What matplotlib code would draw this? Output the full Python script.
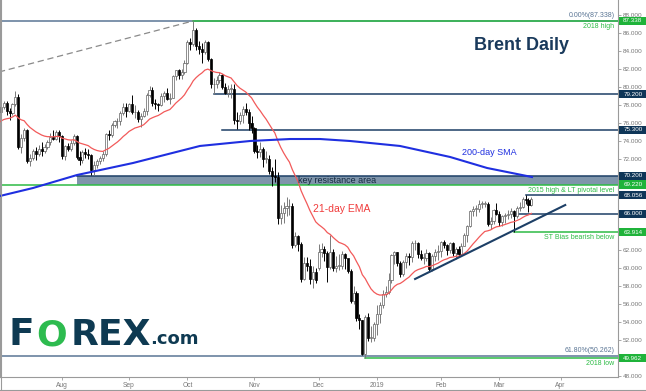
import numpy as np
import pandas as pd
import matplotlib
matplotlib.use("Agg")
import matplotlib.pyplot as plt
from matplotlib.patches import Rectangle
import matplotlib.transforms as mtransforms

plt.rcParams['font.family'] = ['Liberation Sans', 'DejaVu Sans']

# ===================== data =====================
# trading days Jul 2 2018 .. Mar 18 2019
opens = [
    79.2, 77.3, 77.8, 78.2, 77.4, 77.1, 78.1, 78.9, 73.4, 74.4, 75.3, 71.8, 72.2, 72.9, 72.6, 73.1, 72.9, 73.4, 73.9, 74.5, 74.3, 75.0,
    74.6, 72.4, 73.5, 73.2, 73.8, 74.6, 72.3, 71.9, 72.8, 72.6, 72.5, 70.8, 71.4, 71.8, 72.2, 72.6, 74.8, 74.7, 75.8, 76.2, 76.3, 77.1, 77.8,
    77.4, 78.1, 77.2, 77.3, 76.5, 76.8, 77.4, 79.1, 79.7, 78.2, 78.1, 78.0, 79.0, 79.4, 78.7, 78.8, 81.2, 81.9, 81.3, 81.7,
    82.7, 85.0, 84.8, 86.3, 84.6, 84.2, 83.9, 85.0, 83.1, 80.3, 80.4, 80.8, 81.4, 80.0, 79.3, 79.8, 79.8, 76.4, 76.2, 76.9, 77.6, 77.3, 76.0,
    75.5, 72.9, 72.8, 73.2, 72.1, 72.1, 70.7, 70.2, 70.1, 65.5, 66.1, 66.6, 66.8, 66.8, 62.5, 63.5, 62.6, 58.8, 60.5, 60.2, 58.8, 59.5,
    60.0, 61.7, 62.1, 61.6, 60.1, 61.7, 60.0, 60.2, 60.2, 61.5, 61.1, 59.6, 56.3, 57.2, 54.4, 54.2, 50.5, 54.5, 52.2, 52.2,
    53.8, 54.9, 55.9, 57.1, 57.3, 58.7, 61.4, 61.7, 60.5, 59.3, 60.6, 61.3, 61.2, 62.7, 62.7, 61.5, 61.1, 61.1, 61.6, 59.9, 61.3, 61.7,
    61.9, 62.8, 62.5, 62.0, 62.7, 61.6, 62.1, 61.5, 62.4, 63.6, 64.6, 66.3, 66.5, 66.5, 67.1, 67.1, 67.1, 64.8, 65.2, 66.4,
    66.0, 65.1, 65.7, 65.9, 66.0, 66.3, 65.7, 66.6, 66.7, 67.6, 67.5, 67.0,
]
highs = [
    79.4, 78.4, 78.5, 78.5, 77.7, 78.3, 79.6, 79.2, 74.8, 75.5, 75.4, 72.6, 73.1, 73.4, 73.6, 73.9, 73.7, 74.1, 74.9, 75.3, 75.3, 75.3,
    74.7, 73.6, 73.8, 74.1, 74.8, 74.7, 72.9, 73.0, 73.3, 73.1, 72.6, 71.8, 72.1, 72.4, 72.9, 74.9, 75.3, 76.0, 76.4, 76.6, 77.4, 78.2, 78.3,
    78.3, 79.1, 78.0, 77.5, 77.1, 77.7, 79.3, 80.1, 80.0, 78.7, 78.3, 79.3, 79.6, 79.9, 79.4, 81.4, 81.9, 82.0, 82.0, 83.0,
    85.2, 85.4, 87.338, 86.6, 85.1, 84.9, 85.2, 85.1, 83.2, 81.0, 81.2, 81.7, 81.5, 80.5, 80.2, 80.4, 80.3, 77.2, 77.3, 77.9, 78.3, 77.6, 76.8,
    75.6, 73.6, 73.9, 73.4, 72.9, 72.5, 71.2, 72.0, 70.6, 67.0, 67.3, 67.8, 67.6, 67.2, 64.0, 63.6, 62.8, 61.2, 61.2, 61.0, 60.2, 60.0,
    62.6, 62.7, 62.4, 61.9, 63.6, 62.1, 61.3, 61.5, 61.9, 61.6, 61.0, 59.9, 58.0, 57.4, 54.9, 54.2, 54.8, 55.0, 53.6, 54.0,
    55.9, 56.2, 57.5, 58.0, 59.4, 61.5, 61.9, 61.8, 60.7, 60.9, 61.6, 61.6, 63.0, 63.1, 62.8, 62.0, 61.6, 62.1, 61.7, 61.5, 62.1, 62.5,
    63.0, 63.1, 62.6, 62.8, 62.9, 62.3, 62.4, 62.7, 63.9, 64.7, 66.4, 66.8, 66.9, 67.5, 67.4, 67.4, 67.3, 65.6, 66.5, 67.2,
    66.3, 65.9, 66.1, 66.4, 66.6, 66.4, 66.8, 67.3, 67.8, 68.056, 67.7, 67.8,
]
lows = [
    77.0, 76.8, 77.6, 76.9, 76.4, 76.9, 77.9, 73.2, 72.7, 74.0, 71.6, 71.3, 71.9, 71.9, 72.4, 72.4, 72.7, 73.2, 73.6, 74.1, 74.2, 73.9,
    72.0, 71.9, 72.9, 72.9, 73.6, 72.1, 71.4, 71.6, 72.2, 72.0, 70.3, 70.3, 71.0, 71.5, 71.8, 72.4, 74.1, 74.5, 75.6, 75.5, 75.8, 76.9, 76.7,
    77.2, 77.0, 76.6, 76.1, 75.6, 76.7, 76.9, 78.9, 77.9, 77.6, 77.4, 77.9, 78.4, 78.6, 78.1, 78.8, 80.8, 80.9, 80.9, 81.5,
    82.6, 84.1, 84.6, 84.1, 83.7, 82.7, 83.7, 82.9, 79.9, 79.2, 79.9, 80.5, 79.8, 79.2, 78.9, 78.8, 75.9, 75.4, 75.9, 76.0, 76.9, 75.3, 74.9,
    72.7, 72.2, 72.3, 71.2, 71.6, 70.4, 69.1, 69.5, 64.8, 64.9, 65.0, 65.7, 65.9, 62.2, 62.3, 61.9, 58.4, 58.6, 59.6, 58.2, 57.8, 58.3,
    59.8, 61.2, 60.8, 58.4, 59.9, 59.6, 59.5, 59.8, 59.9, 59.9, 59.4, 56.1, 56.0, 54.1, 53.2, 50.3, 49.962, 51.9, 51.8, 51.9,
    52.6, 53.9, 55.5, 56.8, 57.1, 58.3, 60.4, 60.2, 59.0, 59.1, 60.0, 60.3, 60.6, 62.0, 61.1, 60.9, 60.4, 60.8, 59.6, 59.6, 60.8, 60.9,
    61.2, 62.2, 61.4, 61.6, 61.3, 61.0, 61.3, 61.3, 62.4, 62.9, 64.5, 65.7, 65.7, 66.2, 66.6, 66.7, 64.6, 64.3, 64.9, 65.8,
    64.6, 64.6, 65.0, 65.4, 65.5, 63.914, 65.5, 66.3, 66.6, 67.1, 66.2, 66.8,
]
closes = [
    77.3, 77.8, 78.2, 77.4, 77.1, 78.1, 78.9, 73.4, 74.4, 75.3, 71.8, 72.2, 72.9, 72.6, 73.1, 72.9, 73.4, 73.9, 74.5, 74.3, 75.0, 74.6,
    72.4, 73.5, 73.2, 73.8, 74.6, 72.3, 71.9, 72.8, 72.6, 72.5, 70.8, 71.4, 71.8, 72.2, 72.6, 74.8, 74.7, 75.8, 76.2, 76.3, 77.1, 77.8, 77.4,
    78.1, 77.2, 77.3, 76.5, 76.8, 77.4, 79.1, 79.7, 78.2, 78.1, 78.0, 79.0, 79.4, 78.7, 78.8, 81.2, 81.9, 81.3, 81.7, 82.7,
    85.0, 84.8, 86.3, 84.6, 84.2, 83.9, 85.0, 83.1, 80.3, 80.4, 80.8, 81.4, 80.0, 79.3, 79.8, 79.8, 76.4, 76.2, 76.9, 77.6, 77.3, 76.0, 75.5,
    72.9, 72.8, 73.2, 72.1, 72.1, 70.7, 70.2, 70.1, 65.5, 66.1, 66.6, 66.8, 66.8, 62.5, 63.5, 62.6, 58.8, 60.5, 60.2, 58.8, 59.5, 58.7,
    61.7, 62.1, 61.6, 60.1, 61.7, 60.0, 60.2, 60.2, 61.5, 61.1, 59.6, 56.3, 57.2, 54.4, 54.2, 50.5, 54.5, 52.2, 52.2, 53.8,
    54.9, 55.9, 57.1, 57.3, 58.7, 61.4, 61.7, 60.5, 59.3, 60.6, 61.3, 61.2, 62.7, 62.7, 61.5, 61.1, 61.1, 61.6, 59.9, 61.3, 61.7, 61.9,
    62.8, 62.5, 62.0, 62.7, 61.6, 62.1, 61.5, 62.4, 63.6, 64.6, 66.3, 66.5, 66.5, 67.1, 67.1, 67.1, 64.8, 65.2, 66.4, 66.0,
    65.1, 65.7, 65.9, 66.0, 66.3, 65.7, 66.6, 66.7, 67.6, 67.5, 67.0, 67.6,
]
# late June 2018 closes, only to start the EMA
warmup_closes = [75.3, 75.1, 74.7, 73.1, 75.6, 74.7, 76.3, 77.6, 77.9, 79.4]

# 200-day SMA, read at a few points (index, price)
sma_idx = [0.7, 12.0, 27.1, 46.3, 69.3, 86.5, 100.2, 110.5, 120.8, 137.9, 155.1, 167.8, 183.2]
sma_val = [67.95, 68.83, 70.27, 71.60, 73.49, 74.04, 74.26, 74.26, 74.04, 73.49, 72.27, 71.05, 70.05]

month_keys = ['2018-08', '2018-09', '2018-10', '2018-11', '2018-12', '2019-01', '2019-02', '2019-03', '2019-04']
month_labels = ['Aug', 'Sep', 'Oct', 'Nov', 'Dec', '2019', 'Feb', 'Mar', 'Apr']

# horizontal levels: value, start index, colour kind
level_vals = [87.338, 79.2, 75.3, 70.2, 69.22, 68.056, 66.0, 63.914, 49.962]
level_start = [67, 74, 77, 27, 0, 181, 178, 177, 126]
level_kind = ['g', 'n', 'n', 'n', 'g', 'n', 'n', 'g', 'g']

fib_vals = [87.338, 50.262]
trend_x = [143.1, 194.6]
trend_y = [58.76, 66.95]
dash_x = [0, 67]
dash_y = [81.65, 87.338]

NAVY = '#1d3f66'
GREEN = '#2dbb45'
FIB = '#5a7594'
BOXN = '#0f3658'
BOXG = '#1fb33a'

# ===================== x positions =====================
days = pd.bdate_range('2018-07-02', '2019-04-30')
days = days.drop(pd.to_datetime(['2018-12-25', '2019-01-01']))
n = len(closes)
x = np.arange(n)
month_pos = [int(np.argmax(days.strftime('%Y-%m') == k)) for k in month_keys]

ema = pd.Series(warmup_closes + closes).ewm(span=21, adjust=False).mean().values[len(warmup_closes):]

# ===================== figure =====================
fig = plt.figure(figsize=(6.46, 3.91), dpi=100)
ax = fig.add_axes([0, 14 / 391, 618 / 646, 377 / 391])
ax.set_xlim(0.72, 212.7)
ax.set_ylim(47.905, 89.654)

# key resistance box
ax.add_patch(Rectangle((27, 69.22), 220, 0.98, facecolor='#7f95ab', edgecolor='none', zorder=1))

# fib lines
for v in fib_vals:
    ax.axhline(v, color=FIB, lw=1.1, zorder=2)

# level lines
for v, s, k in zip(level_vals, level_start, level_kind):
    ax.plot([s, 220], [v, v], color=GREEN if k == 'g' else NAVY, lw=1.1, zorder=2)

ax.plot(dash_x, dash_y, color='#8a8a8a', lw=0.9, ls=(0, (5, 3)), zorder=2)
ax.plot(trend_x, trend_y, color=NAVY, lw=1.5, zorder=5)

# candles
o = np.array(opens); h = np.array(highs); l = np.array(lows); c = np.array(closes)
up = c >= o
ax.vlines(x[up], l[up], h[up], color='#7a7a7a', lw=0.7, zorder=3)
ax.vlines(x[~up], l[~up], h[~up], color='black', lw=0.7, zorder=3)
body = np.maximum(np.abs(c - o), 0.08)
ax.bar(x[up], body[up], bottom=np.minimum(o, c)[up], width=0.72,
       facecolor='white', edgecolor='#606060', linewidth=0.5, zorder=3)
ax.bar(x[~up], body[~up], bottom=np.minimum(o, c)[~up], width=0.72,
       facecolor='black', edgecolor='black', linewidth=0.5, zorder=3)

# moving averages
ax.plot(x, ema, color='#f25a5a', lw=0.9, zorder=4)
ax.plot(sma_idx, sma_val, color='#1f2fe0', lw=1.5, zorder=4)

# texts on chart
ax.text(179.6, 84.67, 'Brent Daily', color='#1a3a5c', fontsize=13, fontweight='bold', ha='center', va='center')
ax.text(168.5, 72.82, '200-day SMA', color='#1f2fe0', fontsize=6.5, ha='center', va='center')
ax.text(118.0, 66.51, '21-day EMA', color='#f03c3c', fontsize=7.5, ha='center', va='center')
ax.text(116.3, 69.71, 'key resistance area', color='#152a40', fontsize=6.5, ha='center', va='center', zorder=6)
ax.text(211.5, 87.5, '0.00%(87.338)', color=FIB, fontsize=5, ha='right', va='bottom')
ax.text(211.5, 87.1, '2018 high', color=GREEN, fontsize=5, ha='right', va='top')
ax.text(211.5, 69.0, '2015 high & LT pivotal level', color=GREEN, fontsize=5, ha='right', va='top')
ax.text(211.5, 63.7, 'ST Bias bearish below', color=GREEN, fontsize=5, ha='right', va='top')
ax.text(211.5, 50.42, '61.80%(50.262)', color=FIB, fontsize=5, ha='right', va='bottom')
ax.text(211.5, 49.75, '2018 low', color=GREEN, fontsize=5, ha='right', va='top')

# axes styling
ax.spines['top'].set_visible(False)
for s in ['left', 'bottom', 'right']:
    ax.spines[s].set_color('#9a9a9a')
    ax.spines[s].set_linewidth(0.8)
ax.yaxis.tick_right()
yt = np.arange(48, 89, 2)
# tick labels hidden where a price box sits on top of them
ylabels = ['' if min(abs(v - lv) for lv in level_vals) < 0.5 else f'{v:.3f}' for v in yt]
ax.set_yticks(yt)
ax.set_yticklabels(ylabels)
ax.tick_params(axis='y', length=2, width=0.6, color='#9a9a9a', labelsize=4.6, labelcolor='#777777', pad=1.5)
ax.set_xticks(month_pos)
ax.set_xticklabels(month_labels)
ax.tick_params(axis='x', length=2, width=0.6, color='#9a9a9a', labelsize=4.8, labelcolor='#777777', pad=1.5)

# price boxes on right axis
trans = mtransforms.blended_transform_factory(ax.transAxes, ax.transData)
for v, k in zip(level_vals, level_kind):
    ax.add_patch(Rectangle((1.002, v - 0.45), 0.044, 0.9, transform=trans, clip_on=False,
                           facecolor=BOXG if k == 'g' else BOXN, edgecolor='none', zorder=10))
    ax.text(1.024, v, f'{v:.3f}', transform=trans, color='white', fontsize=4.5,
            ha='center', va='center', clip_on=False, zorder=11)

# logo
LOGO = '#0e3a52'
fig.text(9 / 646, 1 - 345 / 391, 'F', color=LOGO, fontsize=27, fontweight='heavy', family='DejaVu Sans', va='baseline')
fig.text(36 / 646, 1 - 345 / 391, 'O', color='#2dbb4f', fontsize=26, fontweight='heavy', family='DejaVu Sans', va='baseline')
fig.text(71 / 646, 1 - 345 / 391, 'REX', color=LOGO, fontsize=26, fontweight='heavy', family='DejaVu Sans', va='baseline')
fig.text(150 / 646, 1 - 344 / 391, '.com', color=LOGO, fontsize=13, fontweight='bold', family='DejaVu Sans', va='baseline')

# outer frame lines
fig.add_artist(plt.Line2D([0.0008, 0.0008], [0, 1], color='#9a9a9a', lw=0.8))
fig.add_artist(plt.Line2D([0, 1], [0.002, 0.002], color='#9a9a9a', lw=0.8))

fig.savefig('out.png', dpi=100)
